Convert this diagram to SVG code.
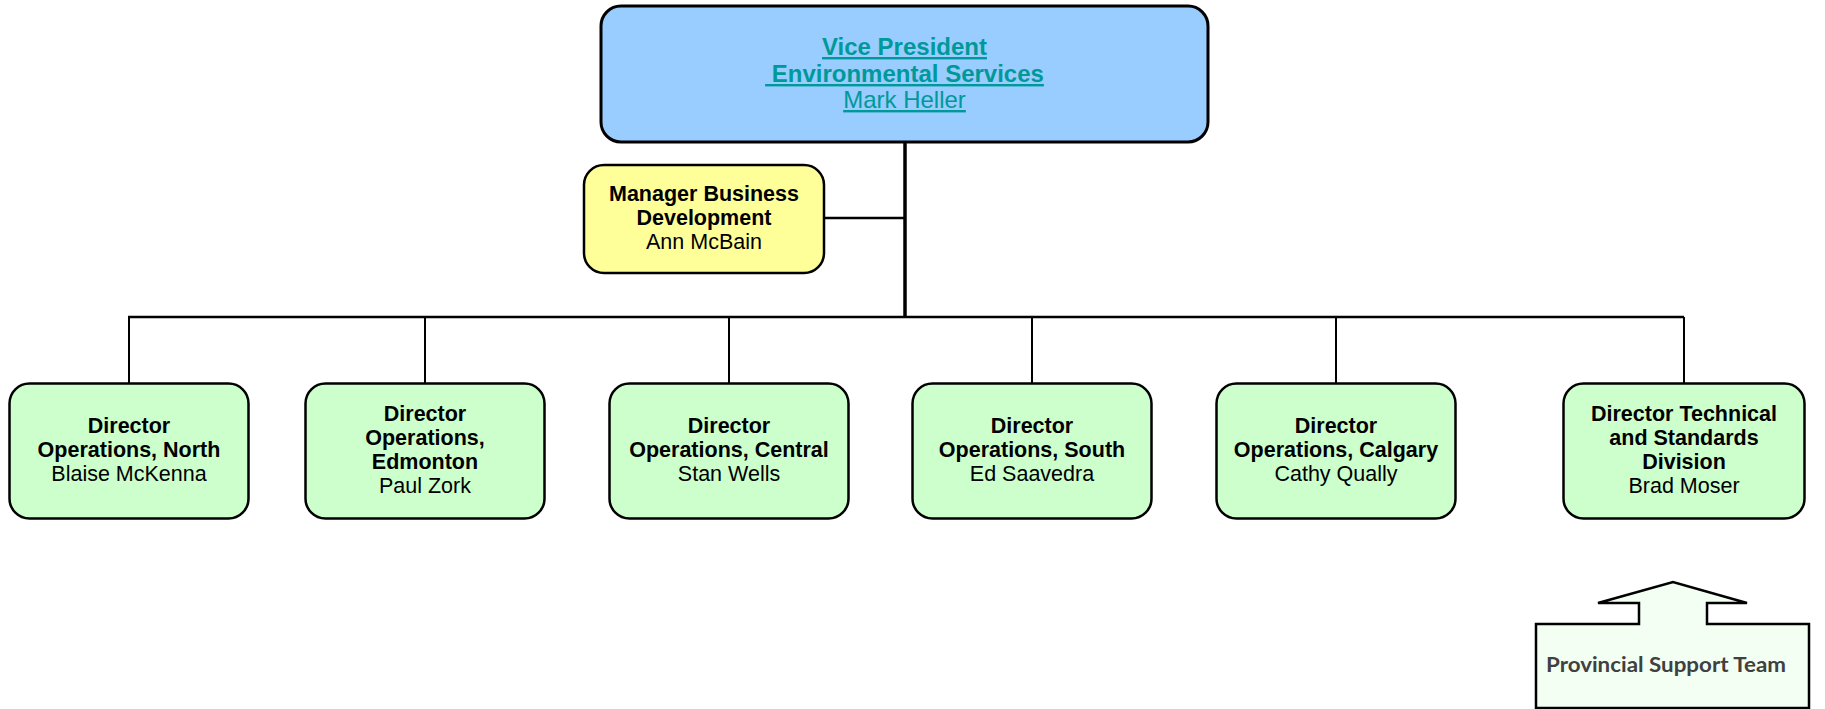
<svg xmlns="http://www.w3.org/2000/svg" width="1825" height="709" viewBox="0 0 1825 709">
<style>
.box{stroke:#000;stroke-width:2.5}
.vp{fill:#99CCFF;stroke:#000;stroke-width:3}
.mgr{fill:#FFFF99}
.dir{fill:#CCFFCC}
.t{font-family:"Liberation Sans",Arial,sans-serif;font-size:21.5px;fill:#000;text-anchor:middle}
.b{font-weight:bold}
.vpt{font-family:"Liberation Sans",Arial,sans-serif;font-size:24px;fill:#009999;text-anchor:middle;text-decoration:underline}
.ln{stroke:#000;fill:none}
.pst{font-family:Lato,"Open Sans",sans-serif;font-weight:bold;font-size:20px;fill:#404040;text-anchor:middle}
</style>
<rect width="1825" height="709" fill="#fff"/>
<g id="connectors">
<line class="ln" x1="905" y1="142" x2="905" y2="318" stroke-width="3.5"/>
<line class="ln" x1="824" y1="218" x2="905" y2="218" stroke-width="2.5"/>
<line class="ln" x1="128" y1="317" x2="1684" y2="317" stroke-width="2.5"/>
<line class="ln" x1="129" y1="317" x2="129" y2="384" stroke-width="2"/>
<line class="ln" x1="425" y1="317" x2="425" y2="384" stroke-width="2"/>
<line class="ln" x1="729" y1="317" x2="729" y2="384" stroke-width="2"/>
<line class="ln" x1="1032" y1="317" x2="1032" y2="384" stroke-width="2"/>
<line class="ln" x1="1336" y1="317" x2="1336" y2="384" stroke-width="2"/>
<line class="ln" x1="1684" y1="317" x2="1684" y2="384" stroke-width="2"/>
</g>
<g id="vp">
<rect class="vp" x="601" y="6" width="607" height="136" rx="20"/>
<text class="vpt b" x="904.5" y="55">Vice President</text>
<text class="vpt b" x="904.5" y="82" xml:space="preserve"> Environmental Services</text>
<text class="vpt" x="904.5" y="108">Mark Heller</text>
</g>
<g id="mgr">
<rect class="box mgr" x="584" y="165" width="240" height="108" rx="20"/>
<text class="t b" x="704" y="201">Manager Business</text>
<text class="t b" x="704" y="225">Development</text>
<text class="t" x="704" y="249">Ann McBain</text>
</g>
<g id="d1">
<rect class="box dir" x="9.5" y="383.5" width="239" height="135" rx="20"/>
<text class="t b" x="129" y="433">Director</text>
<text class="t b" x="129" y="457">Operations, North</text>
<text class="t" x="129" y="481">Blaise McKenna</text>
</g>
<g id="d2">
<rect class="box dir" x="305.5" y="383.5" width="239" height="135" rx="20"/>
<text class="t b" x="425" y="421">Director</text>
<text class="t b" x="425" y="445">Operations,</text>
<text class="t b" x="425" y="469">Edmonton</text>
<text class="t" x="425" y="493">Paul Zork</text>
</g>
<g id="d3">
<rect class="box dir" x="609.5" y="383.5" width="239" height="135" rx="20"/>
<text class="t b" x="729" y="433">Director</text>
<text class="t b" x="729" y="457">Operations, Central</text>
<text class="t" x="729" y="481">Stan Wells</text>
</g>
<g id="d4">
<rect class="box dir" x="912.5" y="383.5" width="239" height="135" rx="20"/>
<text class="t b" x="1032" y="433">Director</text>
<text class="t b" x="1032" y="457">Operations, South</text>
<text class="t" x="1032" y="481">Ed Saavedra</text>
</g>
<g id="d5">
<rect class="box dir" x="1216.5" y="383.5" width="239" height="135" rx="20"/>
<text class="t b" x="1336" y="433">Director</text>
<text class="t b" x="1336" y="457">Operations, Calgary</text>
<text class="t" x="1336" y="481">Cathy Qually</text>
</g>
<g id="d6">
<rect class="box dir" x="1563.5" y="383.5" width="241" height="135" rx="20"/>
<text class="t b" x="1684" y="421">Director Technical</text>
<text class="t b" x="1684" y="445">and Standards</text>
<text class="t b" x="1684" y="469">Division</text>
<text class="t" x="1684" y="493">Brad Moser</text>
</g>
<g id="pst">
<path d="M1536,624 H1639 V603 H1598 L1673,582 L1747,603 H1707 V624 H1809 V708 H1536 Z" fill="#F2FFF2" stroke="#000" stroke-width="2.5"/>
<text class="pst" x="1666" y="672" textLength="240" lengthAdjust="spacingAndGlyphs">Provincial Support Team</text>
</g>
</svg>
